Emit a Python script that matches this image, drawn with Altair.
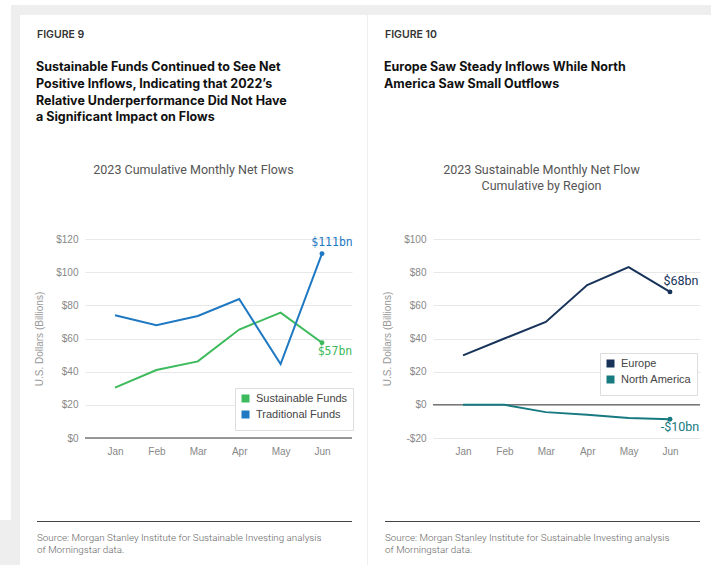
import altair as alt
import pandas as pd

# ---------------- data ----------------
months = ["Jan", "Feb", "Mar", "Apr", "May", "Jun"]

sustainable = [30.4, 41.0, 46.2, 65.4, 75.6, 57.4]
traditional = [74.0, 68.0, 73.6, 83.8, 44.6, 111.2]

europe = [29.8, 40.0, 50.0, 72.2, 83.1, 68.1]
north_america = [0.0, 0.0, -4.4, -6.0, -7.9, -8.7]

left_series = ["Sustainable Funds", "Traditional Funds"]
left_colors = ["#3dba5c", "#1f78c2"]
left_end_labels = ["$57bn", "$111bn"]
left_ticks = [0, 20, 40, 60, 80, 100, 120]

right_series = ["Europe", "North America"]
right_colors = ["#17335a", "#177a80"]
right_end_labels = ["$68bn", "-$10bn"]
right_ticks = [-20, 0, 20, 40, 60, 80, 100]

fig9_kicker = "FIGURE 9"
fig9_title = ["Sustainable Funds Continued to See Net",
              "Positive Inflows, Indicating that 2022\u2019s",
              "Relative Underperformance Did Not Have",
              "a Significant Impact on Flows"]
fig9_sub = "2023 Cumulative Monthly Net Flows"

fig10_kicker = "FIGURE 10"
fig10_title = ["Europe Saw Steady Inflows While North",
               "America Saw Small Outflows"]
fig10_sub = ["2023 Sustainable Monthly Net Flow", "Cumulative by Region"]

source_text = ["Source: Morgan Stanley Institute for Sustainable Investing analysis",
               "of Morningstar data."]
y_title = "U.S. Dollars (Billions)"


def long_df(series_names, series_values):
    rows = []
    for name, vals in zip(series_names, series_values):
        for m, v in zip(months, vals):
            rows.append({"series": name, "month": m, "value": v})
    return pd.DataFrame(rows)


def end_df(series_names, series_values, labels):
    return pd.DataFrame({"series": series_names, "month": [months[-1]] * len(series_names),
                         "value": [v[-1] for v in series_values], "label": labels})


df_left = long_df(left_series, [sustainable, traditional])
df_right = long_df(right_series, [europe, north_america])
end_left = end_df(left_series, [sustainable, traditional], left_end_labels)
end_right = end_df(right_series, [europe, north_america], right_end_labels)

one = pd.DataFrame({"k": [0]})

W, H = 267, 199
LABEL_FONT = "Liberation Sans"
TITLE_FONT = "Inter"


def deco_rect(x, x2, y, y2, color):
    return alt.Chart(one).mark_rect(color=color).encode(
        x=alt.value(x), x2=alt.value(x2), y=alt.value(y), y2=alt.value(y2))


def deco_text(text, x, y, size, weight="normal", color="#333", font=TITLE_FONT, align="left", lh=None):
    kw = dict(text=text, align=align, baseline="alphabetic", fontSize=size, fontWeight=weight,
              color=color, font=font)
    if lh is not None:
        kw["lineHeight"] = lh
    return alt.Chart(one).mark_text(**kw).encode(x=alt.value(x), y=alt.value(y))


def panel(df, end, series, colors, ticks, domain, legend_xy, kicker, title, sub, label_offsets,
          label_font, label_size, background=False):
    xenc = alt.X("month:N", sort=months, title=None,
                 scale=alt.Scale(type="point", padding=0.725),
                 axis=alt.Axis(labelAngle=0, ticks=False, domain=False, grid=False,
                               labelPadding=8, labelFontSize=10, labelColor="#888",
                               labelFont=LABEL_FONT))
    yaxis = alt.Axis(values=ticks, ticks=False, domain=False, grid=True,
                     gridColor="#e8e8e8", gridWidth=1,
                     labelExpr="datum.value < 0 ? '-$' + abs(datum.value) : '$' + datum.value",
                     labelPadding=7, labelFontSize=10, labelColor="#888",
                     labelFont=LABEL_FONT, titleFont=LABEL_FONT, titleFontSize=10,
                     titleColor="#999", titleFontWeight="normal", titlePadding=11)
    yscale = alt.Scale(domain=domain, nice=False, zero=False)
    yenc = alt.Y("value:Q", title=y_title, scale=yscale, axis=yaxis)
    cscale = alt.Scale(domain=series, range=colors)
    cenc = alt.Color("series:N", scale=cscale, title=None,
                     legend=alt.Legend(orient="none", legendX=legend_xy[0], legendY=legend_xy[1],
                                       fillColor="white", strokeColor="#dddddd", padding=5,
                                       symbolType="square", symbolSize=16, symbolStrokeWidth=4,
                                       labelFontSize=11, labelColor="#444", labelFont=LABEL_FONT,
                                       rowPadding=-9, labelOffset=5))
    cenc_nolegend = alt.Color("series:N", scale=cscale, legend=None)

    layers = []
    if background:
        layers += [
            deco_rect(-85, 626, -239, -234, "white"),
            deco_rect(-74, 626, -234, -224, "#eeeeee"),
            deco_rect(-74, -65, -234, 281, "#eeeeee"),
            deco_rect(-85, -65, 281, 326, "#eeeeee"),
            deco_rect(282, 283, -224, 326, "#efefef"),
        ]
    layers += [
        deco_text(kicker, -48, -201, 10.5, weight=600, color="#333"),
        deco_text(title, -49, -168, 12.5, weight=700, color="#111", lh=16.8),
        deco_text(sub, 108.5, -65, 12.5, weight="normal", color="#555", font="Roboto",
                  align="center", lh=16),
        deco_rect(-48, 267, 282, 283, "#444444"),
        deco_text(source_text, -48, 301.5, 9.8, weight=300, color="#666", font="Roboto", lh=12),
    ]

    lines = alt.Chart(df).mark_line(strokeWidth=2).encode(x=xenc, y=yenc, color=cenc)
    zero = alt.Chart(one).mark_rule(color="#777777", strokeWidth=1.5).encode(
        y=alt.YDatum(0, scale=yscale, axis=yaxis, title=y_title))
    pts = alt.Chart(end).mark_circle(size=24, opacity=1).encode(x=xenc, y=yenc, color=cenc_nolegend)
    layers += [zero, lines, pts]
    for s, (dx, dy) in zip(series, label_offsets):
        layers.append(
            alt.Chart(end).transform_filter(alt.datum.series == s).mark_text(
                dx=dx, dy=dy, fontSize=label_size, font=label_font, align="center",
                baseline="middle").encode(x=xenc, y=yenc, text="label:N", color=cenc_nolegend))
    return alt.layer(*layers).properties(width=W, height=H)


left = panel(df_left, end_left, left_series, left_colors, left_ticks, [0, 120], (150, 149),
             fig9_kicker, fig9_title, fig9_sub, [(13, 9), (10, -11)],
             "DejaVu Sans Mono", 11.5, background=True)
right = panel(df_right, end_right, right_series, right_colors, right_ticks, [-20, 100], (167, 114),
              fig10_kicker, fig10_title, fig10_sub, [(11, -11), (10, 8)],
              "Roboto", 12.5)

chart = alt.hconcat(left, right, spacing=81, bounds="flush").resolve_scale(
    x="independent", y="independent", color="independent"
).resolve_legend(color="independent").properties(
    padding=0, background="white"
).configure_view(stroke=None)

chart.save("out.html", embed_options={"renderer": "svg", "actions": False})
